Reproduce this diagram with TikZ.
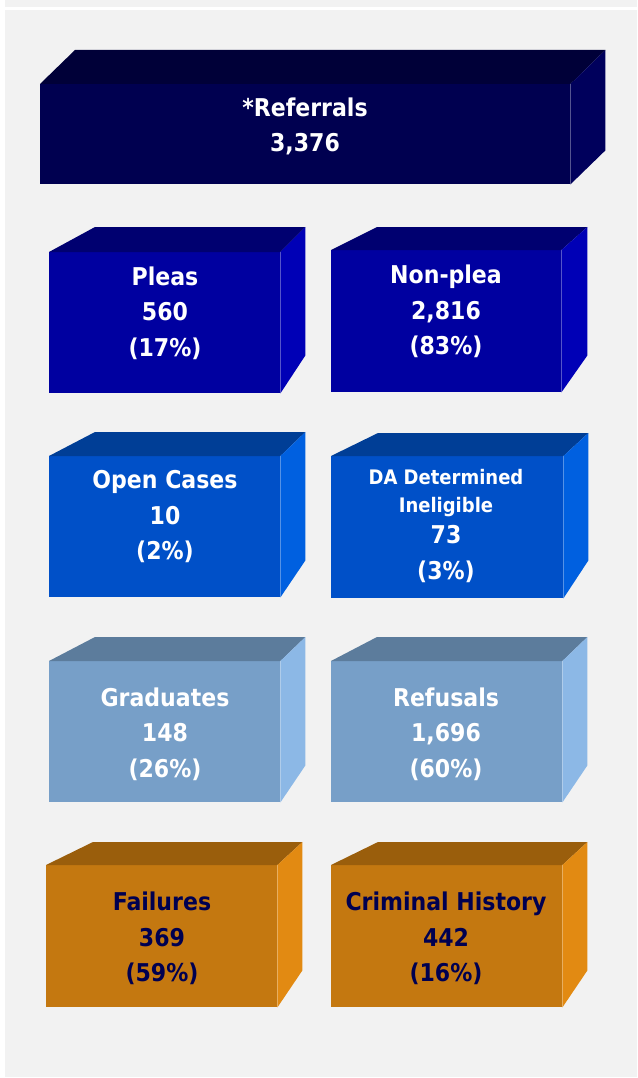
\documentclass[tikz,border=0pt]{standalone}
\usepackage{fontspec}
\setmainfont{DejaVu Sans Condensed}[BoldFont={DejaVu Sans Condensed Bold}]
\usepackage{color}

\definecolor{bggray}{RGB}{242,242,242}
\definecolor{navyfront}{RGB}{0,0,80}
\definecolor{navytop}{RGB}{0,0,56}
\definecolor{navyside}{RGB}{0,0,92}
\definecolor{bluefront}{RGB}{0,0,160}
\definecolor{bluetop}{RGB}{0,0,112}
\definecolor{blueside}{RGB}{0,0,182}
\definecolor{midfront}{RGB}{0,80,200}
\definecolor{midtop}{RGB}{0,62,150}
\definecolor{midside}{RGB}{0,96,224}
\definecolor{steelfront}{RGB}{119,159,200}
\definecolor{steeltop}{RGB}{92,124,156}
\definecolor{steelside}{RGB}{140,184,230}
\definecolor{amberfront}{RGB}{196,120,16}
\definecolor{ambertop}{RGB}{154,94,12}
\definecolor{amberside}{RGB}{226,138,18}

\begin{document}
\begin{tikzpicture}[x=1pt,y=-1pt,
  front/.style={rectangle,inner sep=0pt,anchor=north west},
  txt/.style={align=center,font=\bfseries\fontsize{24.5}{35.5}\selectfont,text=white}]
\useasboundingbox (0,0) rectangle (637,1078);
\fill[white] (0,0) rectangle (637,1078);
\fill[bggray] (5,0) rectangle (637,7);
\fill[bggray] (5,10) rectangle (637,1077);

% top row
\node[front,fill=navyfront,minimum width=530,minimum height=100] (referrals) at (40,84) {};
\fill[navytop] (referrals.north west) -- ++(35,-34) -- ([shift={(35,-34)}]referrals.north east) -- (referrals.north east) -- cycle;
\fill[navyside] (referrals.north east) -- ++(35,-34) -- ([shift={(35,-34)}]referrals.south east) -- (referrals.south east) -- cycle;
\node[txt] (referralstxt) at (305,126.5) {*Referrals\\3,376};

% second row
\node[front,fill=bluefront,minimum width=231,minimum height=141] (pleas) at (49,252) {};
\fill[bluetop] (pleas.north west) -- ++(46,-25) -- ([shift={(25,-25)}]pleas.north east) -- (pleas.north east) -- cycle;
\fill[blueside] (pleas.north east) -- ++(25,-25) -- ([shift={(25,-38)}]pleas.south east) -- (pleas.south east) -- cycle;
\node[txt] (pleastxt) at (165,313) {Pleas\\560\\(17\%)};

\node[front,fill=bluefront,minimum width=230,minimum height=142] (nonplea) at (331,250) {};
\fill[bluetop] (nonplea.north west) -- ++(46,-23) -- ([shift={(26,-23)}]nonplea.north east) -- (nonplea.north east) -- cycle;
\fill[blueside] (nonplea.north east) -- ++(26,-23) -- ([shift={(26,-37)}]nonplea.south east) -- (nonplea.south east) -- cycle;
\node[txt] (nonpleatxt) at (446,311.5) {Non-plea\\2,816\\(83\%)};

% third row
\node[front,fill=midfront,minimum width=231,minimum height=141] (open) at (49,456) {};
\fill[midtop] (open.north west) -- ++(46,-24) -- ([shift={(25,-24)}]open.north east) -- (open.north east) -- cycle;
\fill[midside] (open.north east) -- ++(25,-24) -- ([shift={(25,-37)}]open.south east) -- (open.south east) -- cycle;
\node[txt] (opentxt) at (165,517) {Open Cases\\10\\(2\%)};

\node[front,fill=midfront,minimum width=232,minimum height=142] (ineligible) at (331,456) {};
\fill[midtop] (ineligible.north west) -- ++(47,-23) -- ([shift={(25,-23)}]ineligible.north east) -- (ineligible.north east) -- cycle;
\fill[midside] (ineligible.north east) -- ++(25,-23) -- ([shift={(25,-38)}]ineligible.south east) -- (ineligible.south east) -- cycle;
\node[txt] (ineligibletxt) at (446,526) {{\fontsize{20}{28}\selectfont DA Determined}\\[-8pt]{\fontsize{20}{28}\selectfont Ineligible}\\[-4pt]73\\(3\%)};

% fourth row
\node[front,fill=steelfront,minimum width=231,minimum height=141] (graduates) at (49,661) {};
\fill[steeltop] (graduates.north west) -- ++(46,-24) -- ([shift={(25,-24)}]graduates.north east) -- (graduates.north east) -- cycle;
\fill[steelside] (graduates.north east) -- ++(25,-24) -- ([shift={(25,-37)}]graduates.south east) -- (graduates.south east) -- cycle;
\node[txt] (graduatestxt) at (165,734) {Graduates\\148\\(26\%)};

\node[front,fill=steelfront,minimum width=231,minimum height=141] (refusals) at (331,661) {};
\fill[steeltop] (refusals.north west) -- ++(46,-24) -- ([shift={(25,-24)}]refusals.north east) -- (refusals.north east) -- cycle;
\fill[steelside] (refusals.north east) -- ++(25,-24) -- ([shift={(25,-37)}]refusals.south east) -- (refusals.south east) -- cycle;
\node[txt] (refusalstxt) at (446,734) {Refusals\\1,696\\(60\%)};

% bottom row
\node[front,fill=amberfront,minimum width=231,minimum height=142] (failures) at (46,865) {};
\fill[ambertop] (failures.north west) -- ++(47,-23) -- ([shift={(25,-23)}]failures.north east) -- (failures.north east) -- cycle;
\fill[amberside] (failures.north east) -- ++(25,-23) -- ([shift={(25,-37)}]failures.south east) -- (failures.south east) -- cycle;
\node[txt,text=navyfront] (failurestxt) at (162,938.5) {Failures\\369\\(59\%)};

\node[front,fill=amberfront,minimum width=231,minimum height=142] (history) at (331,865) {};
\fill[ambertop] (history.north west) -- ++(47,-23) -- ([shift={(25,-23)}]history.north east) -- (history.north east) -- cycle;
\fill[amberside] (history.north east) -- ++(25,-23) -- ([shift={(25,-37)}]history.south east) -- (history.south east) -- cycle;
\node[txt,text=navyfront] (historytxt) at (446,938.5) {Criminal History\\442\\(16\%)};
\end{tikzpicture}
\end{document}
